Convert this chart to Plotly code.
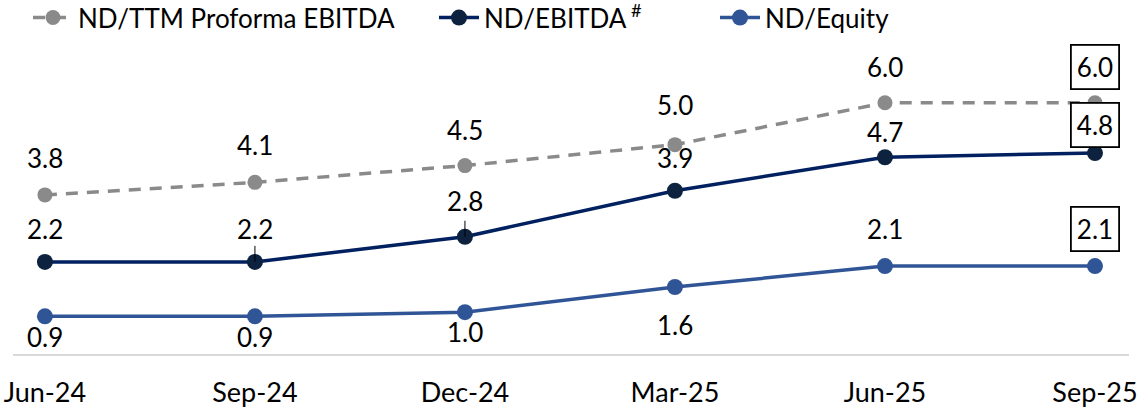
import plotly.graph_objects as go

categories = ["Jun-24", "Sep-24", "Dec-24", "Mar-25", "Jun-25", "Sep-25"]
nd_ttm_proforma = [3.8, 4.1, 4.5, 5.0, 6.0, 6.0]
nd_ebitda = [2.2, 2.2, 2.8, 3.9, 4.7, 4.8]
nd_equity = [0.9, 0.9, 1.0, 1.6, 2.1, 2.1]

# label placement (pixel offsets from point), boxes, leader ticks
ttm_shift = [37, 37, 36, 40, 36, 36]
ebitda_shift = [33, 33, 36, 33, 25, 28]
equity_shift = [-21, -21, -20, -38, 37, 37]
ebitda_tick = [False, True, True, False, False, False]

FONT = "Lato"
GRAY = "#8a8a8a"
NAVY_LINE = "#002060"
NAVY_MARK = "#0c223f"
BLUE = "#2f5597"

x = list(range(len(categories)))

fig = go.Figure()
fig.add_trace(go.Scatter(
    x=x, y=nd_ttm_proforma, mode="lines+markers", name="ND/TTM Proforma EBITDA",
    line=dict(color=GRAY, width=3.5, dash="12px,9px"),
    marker=dict(color=GRAY, size=15), legend="legend"))
fig.add_trace(go.Scatter(
    x=x, y=nd_ebitda, mode="lines+markers", name="ND/EBITDA<sup> #</sup>",
    line=dict(color=NAVY_LINE, width=3.5),
    marker=dict(color=NAVY_MARK, size=16), legend="legend2"))
fig.add_trace(go.Scatter(
    x=x, y=nd_equity, mode="lines+markers", name="ND/Equity",
    line=dict(color=BLUE, width=3.5),
    marker=dict(color=BLUE, size=16), legend="legend3"))

annotations = []
last = len(categories) - 1
for series, shifts in ((nd_ttm_proforma, ttm_shift), (nd_ebitda, ebitda_shift), (nd_equity, equity_shift)):
    for i, v in enumerate(series):
        boxed = i == last
        annotations.append(dict(
            x=i, y=v, text=f"{v:.1f}", showarrow=False, yshift=shifts[i],
            font=dict(family=FONT, size=26, color="black"),
            bordercolor="black" if boxed else "rgba(0,0,0,0)", borderwidth=1.8 if boxed else 0,
            borderpad=5, bgcolor="white" if boxed else "rgba(0,0,0,0)"))

shapes = []
for i, v in enumerate(nd_ebitda):
    if ebitda_tick[i]:
        shapes.append(dict(type="line", xref="x", yref="y", x0=i, x1=i,
                           ysizemode="pixel", yanchor=v, y0=0, y1=16,
                           line=dict(color="black", width=1)))

def legend_at(px):
    return dict(orientation="h", x=px / 1140, xref="container", xanchor="left",
                y=1.146, yref="paper", yanchor="top",
                font=dict(family=FONT, size=26, color="black"),
                bgcolor="rgba(0,0,0,0)", itemwidth=40)

fig.update_layout(
    width=1140, height=409,
    margin=dict(l=13, r=11, t=40, b=55, autoexpand=False),
    paper_bgcolor="white", plot_bgcolor="white",
    font=dict(family=FONT, size=24, color="black"),
    showlegend=True,
    legend=legend_at(28),
    legend2=legend_at(434),
    legend3=legend_at(715),
    xaxis=dict(range=[-0.152, 5.162], tickmode="array", tickvals=x, ticktext=categories,
               showgrid=False, zeroline=False, showline=True, linecolor="#d9d9d9", linewidth=2,
               ticks="", tickfont=dict(family=FONT, size=27, color="black"), ticklabelstandoff=14,
               automargin=False),
    yaxis=dict(range=[0, 7.5], visible=False, showgrid=False, zeroline=False, automargin=False),
    annotations=annotations,
    shapes=shapes,
)

fig.write_html("out.html", config={"displayModeBar": False},
               post_script="document.body.style.margin='0px';document.body.style.overflow='hidden';")
